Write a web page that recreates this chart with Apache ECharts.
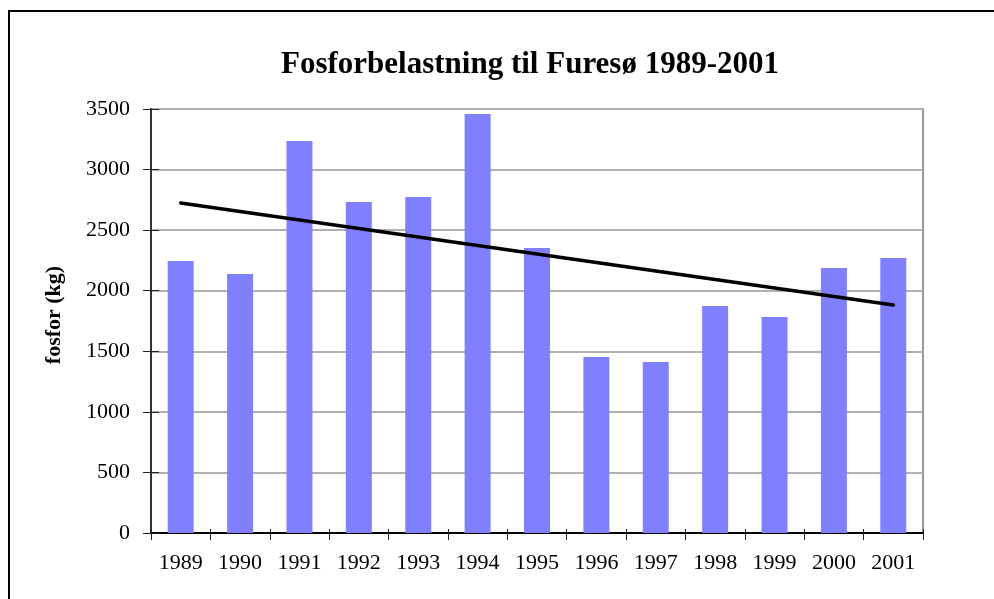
<!DOCTYPE html>
<html>
<head>
<meta charset="utf-8">
<script src="https://cdn.jsdelivr.net/npm/echarts@6/dist/echarts.min.js"></script>
<style>
html,body{margin:0;padding:0;background:#fff;}
#c{width:994px;height:599px;}
</style>
</head>
<body>
<div id="c"></div>
<script>
const titleText = 'Fosforbelastning til Furesø 1989-2001';
const yAxisName = 'fosfor (kg)';
const years = ['1989','1990','1991','1992','1993','1994','1995','1996','1997','1998','1999','2000','2001'];
const fosfor = [2245, 2138, 3236, 2732, 2774, 3459, 2353, 1453, 1412, 1874, 1783, 2188, 2270];
const trendYears = ['1989', '2001'];
const trendValues = [2724, 1882];

const chart = echarts.init(document.getElementById('c'), null, {renderer: 'canvas'});
const font = "'Liberation Serif', 'Times New Roman', serif";
const common = {min: 0, max: 3500, interval: 500};
chart.setOption({
  animation: false,
  backgroundColor: '#fff',
  textStyle: {fontFamily: font},
  title: {
    text: titleText,
    left: 525, top: 44, textAlign: 'center',
    textStyle: {fontFamily: font, fontSize: 31, fontWeight: 'bold', color: '#000'}
  },
  graphic: [{
    type: 'rect', silent: true,
    shape: {x: 9, y: 11, width: 2000, height: 2000},
    style: {fill: 'none', stroke: '#000', lineWidth: 2}
  }, {
    type: 'text', silent: true,
    x: 54, y: 315, rotation: Math.PI / 2,
    style: {text: yAxisName, font: "bold 22px " + font, fill: '#000', align: 'center', verticalAlign: 'middle'}
  }],
  grid: {left: 151, right: 71, top: 109, bottom: 66, show: true, borderColor: '#999', borderWidth: 2, backgroundColor: 'transparent'},
  xAxis: [{
    type: 'category', data: years, boundaryGap: true,
    axisLine: {lineStyle: {color: '#000', width: 2}},
    axisTick: {show: true, inside: false, length: 7, lineStyle: {color: '#222', width: 1}},
    axisLabel: {margin: 19, fontSize: 22, color: '#000', fontFamily: font, interval: 0},
    splitLine: {show: false}
  }, {
    type: 'category', data: years, boundaryGap: true, position: 'bottom',
    axisLine: {show: false},
    axisTick: {show: true, inside: true, length: 4, lineStyle: {color: '#222', width: 1}},
    axisLabel: {show: false}, splitLine: {show: false}
  }],
  yAxis: [Object.assign({
    type: 'value',
    axisLine: {show: true, lineStyle: {color: '#333', width: 2}},
    axisTick: {show: true, inside: false, length: 8, lineStyle: {color: '#222', width: 1}},
    axisLabel: {margin: 21, fontSize: 22, color: '#000', fontFamily: font, formatter: v => String(v)},
    splitLine: {show: true, lineStyle: {color: '#b0b0b0', width: 2}}
  }, common), Object.assign({
    type: 'value', position: 'left',
    axisLine: {show: false},
    axisTick: {show: true, inside: true, length: 8, lineStyle: {color: '#222', width: 1}},
    axisLabel: {show: false}, splitLine: {show: false}
  }, common)],
  series: [{
    type: 'bar', data: fosfor, barWidth: 26,
    itemStyle: {color: '#8080ff'},
    xAxisIndex: 0, yAxisIndex: 0, z: 2
  }, {
    type: 'line', data: trendYears.map((y, i) => [y, trendValues[i]]),
    symbol: 'none',
    lineStyle: {color: '#000', width: 3.5, cap: 'round'},
    xAxisIndex: 0, yAxisIndex: 0, z: 5
  }]
});
</script>
</body>
</html>
